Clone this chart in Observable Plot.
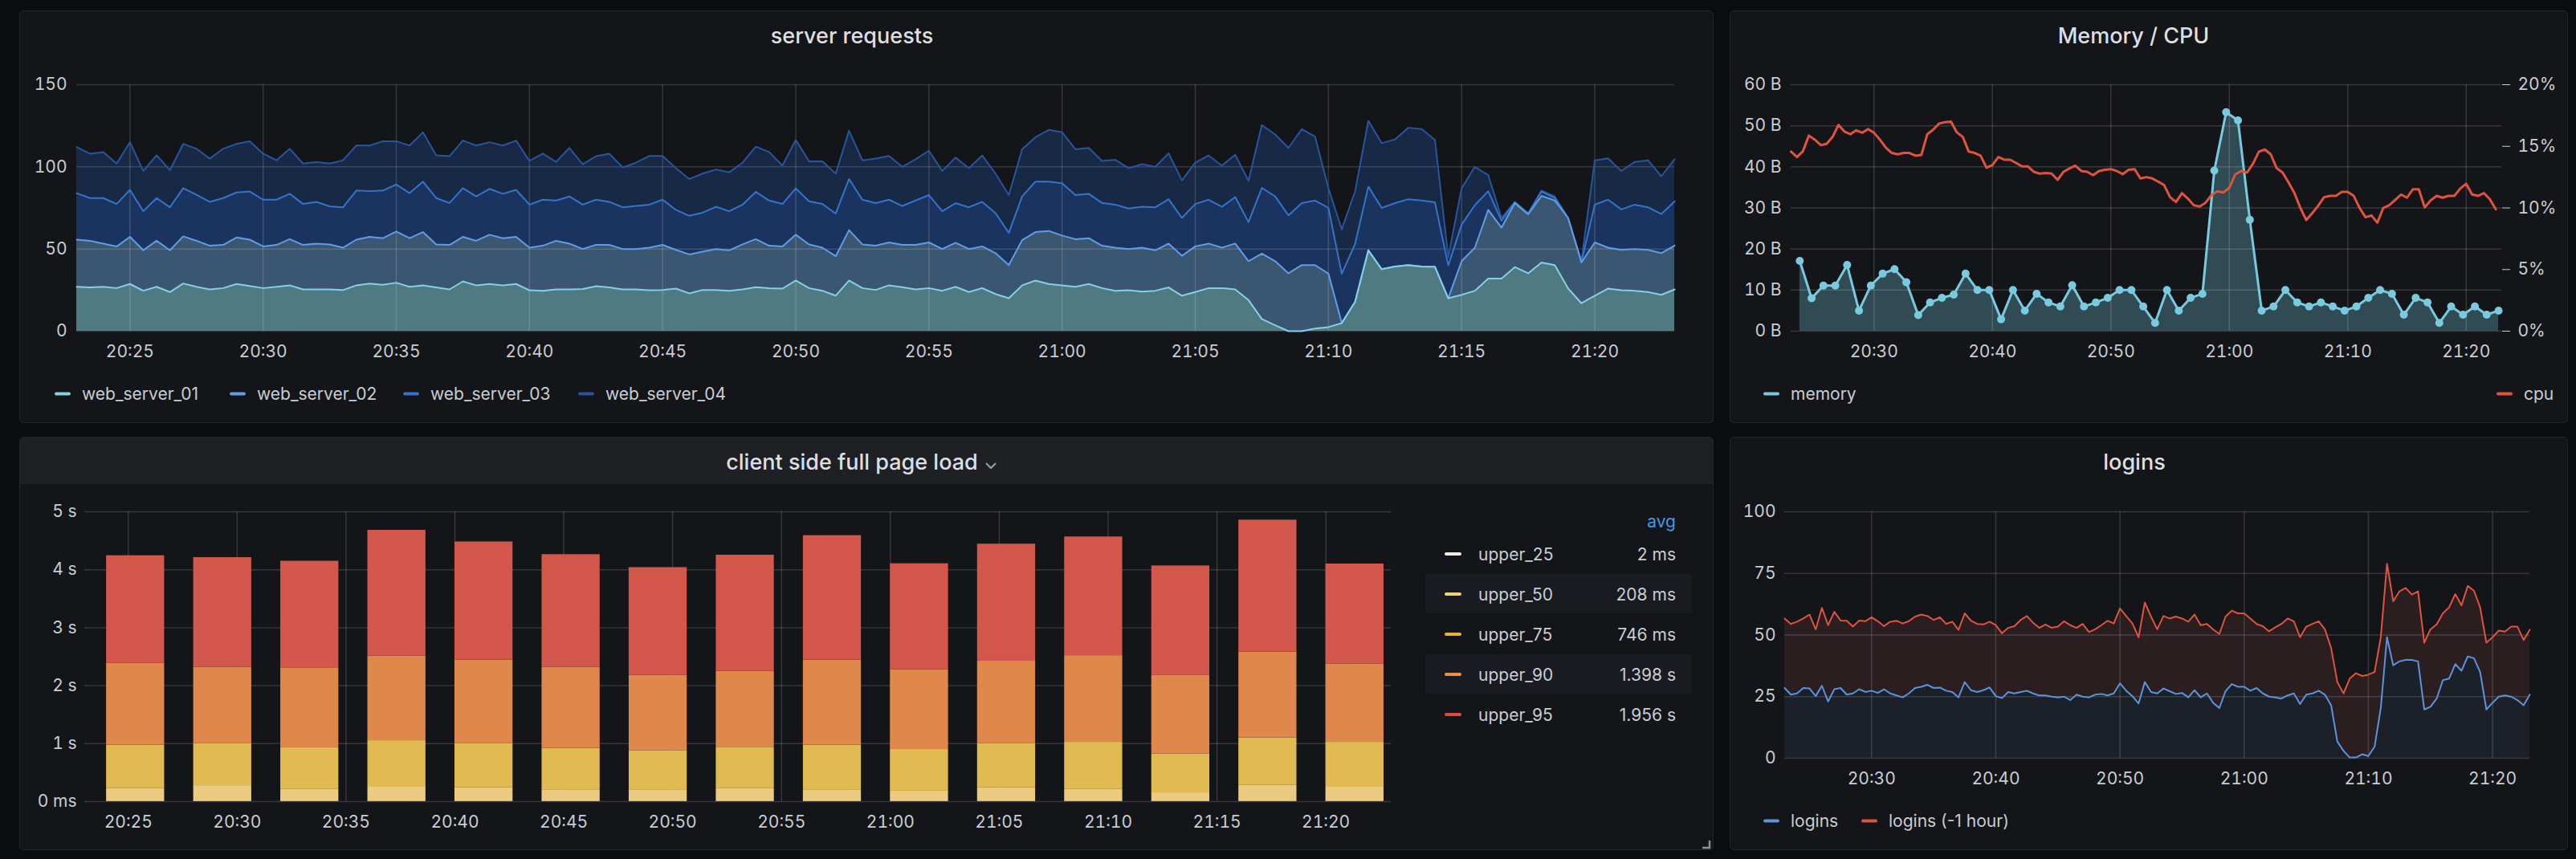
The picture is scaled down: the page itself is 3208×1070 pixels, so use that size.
<!DOCTYPE html>
<html><head><meta charset="utf-8">
<script src="https://cdn.jsdelivr.net/npm/d3@7"></script>
<script src="https://cdn.jsdelivr.net/npm/@observablehq/plot@0.6"></script>
<style>
html,body{margin:0;padding:0;background:#0b0c0e;}
#root{position:relative;width:3208px;height:1070px;overflow:hidden;font-family:Inter,"Noto Sans",sans-serif;color:#c8cdd3;}
.panel{position:absolute;background:#141519;border:1px solid #222429;border-radius:5px;box-sizing:border-box;overflow:hidden;}
.hdr{position:absolute;left:0;top:0;right:0;background:#1f2024;}
.title{position:absolute;font-size:27px;font-weight:500;color:#dcdfe3;white-space:nowrap;transform:translate(-50%,-50%);line-height:1;}
.leg{position:absolute;display:flex;align-items:center;font-size:21px;color:#c8cdd3;white-space:nowrap;transform:translateY(-50%);line-height:1;}
.dash{display:inline-block;width:20px;height:4px;border-radius:2px;margin-right:14px;}
.txt{position:absolute;font-size:21px;white-space:nowrap;transform:translateY(-50%);line-height:1;}
.rowbg{position:absolute;background:#1a1b20;}
</style>
</head><body><div id="root"></div>
<script>
// ---------------- DATA ----------------
// time grid (hh:mm:ss, UTC dummy day)
const SR_T0 = "20:23:00", SR_STEP_S = 30;      // server requests sampling
const MEM_T0 = "20:23:44", MEM_STEP_S = 60;    // memory sampling
const CPU_T0 = "20:23:00", CPU_STEP_S = 30;    // cpu sampling
const LOG_T0 = "20:23:00", LOG_STEP_S = 30;    // logins sampling
const DOMAIN = ["20:23:00", "21:23:00"];

// server requests (stacked levels, as drawn)
const web_server_01 = [27,26.6,27,26.2,28.7,24.6,27,23.8,29,27,25.4,26.2,28.7,27.5,26.2,27,27.9,25.4,25.4,25.4,25,27.9,29,28.2,29.5,27,27.9,26.6,25.4,30.3,27.9,28.7,27.9,28.7,24.9,24.6,25.4,25.4,25.7,27.4,26.6,
25.4,25.4,24.9,25.1,25.9,23,25.1,25.1,24.6,25.4,26.7,26.2,25.9,30.8,26.2,24.6,21.6,30.8,26.2,25.1,27.9,26.7,25.4,26.2,24.6,27,23.8,26.2,22.6,20,27.9,30.8,28.7,27.9,27,28.7,26.2,24.6,24.9,24.1,
24.6,26.6,21.6,23.8,26.2,26.2,25.4,18.9,7.4,3.6,0,0,1.6,2.5,4.9,17.7,49.2,37.7,39.3,40.2,39.3,39.2,20,22.1,24.6,32,32,39,35.2,41.8,40.2,26,17,21.6,25.9,24.9,24.6,23.8,22.1,25.4];
const web_server_02 = [55.7,55,53.3,51.5,57.4,49.2,55,49.2,57.7,55,52,52.5,57,55.7,51.6,52.5,56,52.5,53.3,52.8,50.8,55.7,57.4,56.6,60.6,56.6,60.3,52.8,52.5,57.4,55,58.7,56.6,57.4,50.8,52,55,53.3,50,52.5,52.5,
50,50,50.8,52.5,49.5,46.7,48.4,50,49.2,52.8,56,52,51.6,58.7,52.8,50.8,45.6,61.5,52.8,52,54,52.5,52.5,54,50,53.8,50,51.6,47.5,40.2,55.4,60.3,61,58.2,56,56.6,52,50.8,50,50.8,
49.2,53.3,45.9,51.6,53.3,50.8,53.3,42.6,47.2,42.6,35.2,40.2,40.2,35,5,18,49.2,37.7,39.3,40.2,39.3,39.2,20,42.6,50.8,73.8,63,77.9,71.1,82.3,79.5,68.9,41.8,54,50.8,49.5,50,49.5,47.5,52.1];
const web_server_03 = [84,81,81,77.4,86,73,81,75.4,87,83,78.7,81,84.4,85,80,80,83.6,77.4,78.7,76,75.4,85.6,85.2,85.6,89.3,84,91,81,78,87,82,86.6,83.6,86,77,80,79.5,82,77,80,78.7,
75.4,76.2,77,80,73.8,70.2,72.1,75.7,73,77,84.8,79.5,77.4,86.9,79,77.4,71.6,92.6,80,77.9,80,76.2,79.5,82.8,73,77.9,75.4,78.7,71.8,59.8,82,91,91,90,82.8,83.6,78,77,74.6,75.7,
75.4,80.3,68.9,77.4,80,75.7,81.6,66.4,87.2,82,70.5,77.9,79.5,75,35,53,88,75,77.9,80.3,79.5,78.4,40,64.8,76.7,85.2,67.2,78.4,71.5,85,81.1,68.9,42.3,77,80,74.1,77,75.4,71.3,79];
const web_server_04 = [112,108,109,102,115,97.5,107,98,114,111,105,111,114,115.6,108,104,111,102,103,102,104,113,113,115.6,115.6,113,121,107,106.5,116,113,115,113,116,103.6,108,103,111.5,101.6,106.5,108,
99.7,102.5,106.6,106.6,99.2,92.6,95.9,98.4,96.7,102.5,112.3,109,100.8,116.4,103.3,103.3,95.9,122,104,105,106.6,100,104.6,109.8,97.5,105.7,99.2,106.9,95.9,82.8,110.7,118,122.5,121,110.7,111.5,103.6,104.3,99.2,101.6,
100,108.2,91.8,102.5,106.9,100.8,107.4,91.5,125.4,119.7,111.5,123,118.4,87,62,85,128,114.4,116.7,123.8,123,116.4,45,86.9,100,95,68.9,78.7,71.8,85.6,82,68.9,42.6,104,105.2,97.5,103,104,94.3,104.6];
const srSeries = ["web_server_01","web_server_02","web_server_03","web_server_04"];
const srYTicks = [0,50,100,150];
const fiveMinTicks = ["20:25","20:30","20:35","20:40","20:45","20:50","20:55","21:00","21:05","21:10","21:15","21:20"];
const tenMinTicks = ["20:30","20:40","20:50","21:00","21:10","21:20"];

// memory (B) one per minute, cpu (%)
const memory = [17.1,8,11.1,11.1,16.1,5,11.1,14,15.1,11.9,3.9,7,8.1,8.9,14,10,10,2.9,10,5,9.1,7,6,11.2,6,7,8.1,10,10,6,2,10,5,8.1,9.1,39.1,53.3,51.3,27.1,5,6,10,7,6,7,6,5,6,8.1,10,9.1,4,8.1,7,2,6,4,6,4,5];
const cpu = [14.57,14.13,14.6,15.87,15.54,15.1,15.2,15.76,16.74,16.2,15.98,16.3,16.1,16.4,16.1,15.54,14.9,14.46,14.35,14.46,
14.46,14.24,14.3,15.98,16.35,16.85,16.96,17,16.13,15.76,14.57,14.46,14.24,13.26,13.48,14.13,13.91,13.91,13.65,13.37,
13.37,12.93,12.78,12.83,12.78,12.28,12.93,13.2,13.43,13,12.93,12.65,13,13.09,13.15,13,12.74,13.09,13.15,12.39,
12.5,12.39,12.13,11.85,10.87,10.48,11.2,10.76,10.22,10.11,10.43,11.04,11.35,11.26,11.63,12.72,13,12.87,13.59,14.57,
14.74,14.35,13.22,12.87,12.07,11.2,10,9.02,9.57,10.17,10.87,10.98,10.98,11.3,11.3,10.98,10,9.24,9.39,8.8,
10,10.22,10.65,11.09,10.83,11.52,11.52,10.04,10.61,10.98,10.83,10.98,10.98,11.57,11.96,11.09,10.98,11.2,10.7,9.89];
const memYTicks = [0,10,20,30,40,50,60];
const cpuYTicks = [0,5,10,15,20];

// client side full page load (seconds per 4-minute bucket)
const barTimes = ["20:24","20:28","20:32","20:36","20:40","20:44","20:48","20:52","20:56","21:00","21:04","21:08","21:12","21:16","21:20"];
const barSeries = ["upper_25","upper_50","upper_75","upper_90","upper_95"];
const upper_25 = [0.002,0.002,0.002,0.002,0.002,0.002,0.002,0.002,0.002,0.002,0.002,0.002,0.002,0.002,0.002];
const upper_50 = [0.222,0.274,0.208,0.260,0.236,0.193,0.193,0.222,0.193,0.179,0.236,0.208,0.150,0.284,0.260];
const upper_75 = [0.752,0.729,0.719,0.790,0.767,0.724,0.686,0.714,0.781,0.719,0.767,0.814,0.672,0.814,0.762];
const upper_90 = [1.414,1.314,1.371,1.462,1.438,1.400,1.300,1.310,1.467,1.376,1.419,1.495,1.352,1.480,1.352];
const upper_95 = [1.853,1.891,1.848,2.167,2.038,1.943,1.857,2.004,2.147,1.829,2.019,2.048,1.891,2.277,1.724];
const barAvgLabels = ["2 ms","208 ms","746 ms","1.398 s","1.956 s"];
const barYTicks = [0,1,2,3,4,5];

// logins
const logins = [28.5,25.8,26.3,28.5,28.3,25.2,29.4,23,28,28.5,25.8,26.3,28,26.9,27.4,26.5,28,26.3,25.5,24.7,26.3,28.5,29,29.8,28.5,28.7,27.4,26.9,24.7,30.9,27.6,26.9,27.6,28.7,25.2,24.4,26.9,26.3,26.9,27.4,26.3,25.5,25.5,25,24.7,25,23.6,25.8,25,24.7,25.8,26.1,25.5,26.3,30.4,27.4,25.2,22.2,30.9,26.9,26.3,
28.3,27.2,26.1,26.5,24.7,27.6,24.7,26.3,22.5,20.4,27.2,30.1,29,29,27.4,28.5,26.3,25,24.7,24.2,25.5,26.3,22,25.8,26.3,27.4,25.8,21.5,6.8,3,0.3,0.3,1.6,0.9,4.7,20.4,49.1,37.7,39.3,39.9,39.9,39.3,19.8,20.9,24.2,31.7,32.3,38.2,35.5,41.3,40.6,35,19.8,22.5,25,25.5,25,23.6,21.5,25.8];
const logins_1h = [56.7,54.5,55.4,56.7,58.3,52.3,61,54,59.4,55.9,55.8,53.4,55.9,55.6,57.2,55.6,53.6,55.4,55.8,54.7,55.6,57.5,58.3,57.7,56.1,57.2,54.5,55.4,52.1,58.8,55.8,54.5,54.3,55.4,54,50.7,52.9,53.6,56.1,57.7,55,52.9,54.3,52.9,53.4,55.6,54,52.9,54.5,51.2,52.3,54,55.8,54.7,60.8,57.7,54.7,49.1,63.2,57.5,52.3,
57.7,56.7,57.5,56.7,55.4,58.3,54,54.5,52.3,50.4,57.5,59.9,58.8,58.8,56.7,54.5,53.6,51.5,53.1,54.5,56.7,55.6,49.1,53.4,54.5,55.6,52.3,44.7,30.9,26.3,32.3,34.5,33.4,33.9,35,49.1,78.9,63.7,67.7,69.1,66.4,67.7,46.9,52.3,54.3,58.8,61.2,66.6,62,69.9,68,61.2,46.9,49.1,51.8,51.4,53.4,53.4,48,52.1];
const loginYTicks = [0,25,50,75,100];

// ---------------- STYLE ----------------
const TEXT = "#c8cdd3";
const GRID = {stroke: "#ffffff", strokeOpacity: 0.15, strokeWidth: 1.5};
const SR_FILL = ["#4f7a82","#3b5671","#1b345f","#172944"];
const SR_LINE = ["#84d0e4","#5f9de6","#3574cc","#27559f"];
const MEM_COLOR = "#78cbdf", CPU_COLOR = "#e0533f";
const BAR_FILL = ["#f0e4d2","#eacb80","#e2ba52","#e0884c","#d3574b"];
const BAR_DASH = ["#f3ebe1","#f1d27a","#e4b43a","#ee8f42","#e0493f"];
const BAR_SPAN_S = 160;
const LOGIN_BLUE = "#5b94db", LOGIN_RED = "#e0533f";
const LOGIN_BLUE_FILL = "#1b2029", LOGIN_RED_FILL = "#2a1e21";

// ---------------- HELPERS ----------------
const T = s => { const p = s.split(":").map(Number); return new Date(Date.UTC(2021,0,1,p[0],p[1],p[2]||0)); };
const times = (start, stepS, n) => Array.from({length:n}, (_, i) => new Date(+T(start) + i*stepS*1000));
const hhmm = d3.utcFormat("%H:%M");
const root = document.getElementById("root");
const M = {ML:110, MR:110, MT:30, MB:60};
const plotStyle = {background:"transparent", color:TEXT, fontSize:"21px", fontFamily:"Inter, sans-serif", overflow:"visible"};
function dims(F){ return {width:F.x1-F.x0+M.ML+M.MR, height:F.y1-F.y0+M.MT+M.MB, marginLeft:M.ML, marginRight:M.MR, marginTop:M.MT, marginBottom:M.MB, style:plotStyle}; }
function xScale(ticks){ return {type:"utc", domain:DOMAIN.map(T), ticks:ticks.map(T), tickFormat:hhmm, tickSize:0, tickPadding:18, label:null}; }
function mount(svg, F){ svg.style.position="absolute"; svg.style.left=(F.x0-M.ML)+"px"; svg.style.top=(F.y0-M.MT)+"px"; root.appendChild(svg); return svg; }
function el(cls, css, html){ const d=document.createElement("div"); d.className=cls; Object.assign(d.style, css); if(html!=null) d.innerHTML=html; root.appendChild(d); return d; }
function panel(x0,y0,x1,y1,hdr){ const p=el("panel",{left:x0+"px",top:y0+"px",width:(x1-x0)+"px",height:(y1-y0)+"px"}); if(hdr){const h=document.createElement("div"); h.className="hdr"; h.style.height=hdr+"px"; p.appendChild(h);} }
function title(text,cx,cy){ el("title",{left:cx+"px",top:cy+"px"},text); }
function legend(color,label,x,y){ el("leg",{left:x+"px",top:y+"px"},`<span class="dash" style="background:${color}"></span><span>${label}</span>`); }

// ---------------- PANELS ----------------
panel(24,13,2134,527);
panel(2154,13,3198,527);
panel(24,544,2134,1059,58);
panel(2154,544,3198,1059);
title("server requests",1061,44);
title("Memory / CPU",2657,44);
title("logins",2658,575);
title("client side full page load",1061,575);
el("",{position:"absolute",left:"1226px",top:"570px"},`<svg width="16" height="12"><polyline points="2,3 8,9 14,3" fill="none" stroke="#9aa1ab" stroke-width="2"/></svg>`);
el("",{position:"absolute",left:"2119px",top:"1042px"},`<svg width="12" height="12"><path d="M10,1 V10 H1" fill="none" stroke="#8e9097" stroke-width="2.5"/></svg>`);

// ---------------- PANEL 1: server requests ----------------
const F1 = {x0:95, x1:2085, y0:105, y1:412};
const srLevels = [web_server_01, web_server_02, web_server_03, web_server_04];
const srTimes = times(SR_T0, SR_STEP_S, web_server_01.length);
const srRows = srLevels.map((lv,j) => lv.map((v,i) => ({t:srTimes[i], series:srSeries[j], lo: j ? Math.min(srLevels[j-1][i], v) : 0, hi:v})));
mount(Plot.plot({
  ...dims(F1),
  x: xScale(fiveMinTicks),
  y: {domain:[0,150], ticks:srYTicks, tickSize:0, tickPadding:12, label:null},
  marks: [
    ...srRows.map((rows,j) => Plot.areaY(rows, {x:"t", y1:"lo", y2:"hi", fill:SR_FILL[j]})),
    Plot.ruleY(srYTicks, GRID),
    Plot.ruleX(fiveMinTicks.map(T), GRID),
    ...srRows.map((rows,j) => Plot.lineY(rows, {x:"t", y:"hi", stroke:SR_LINE[j], strokeWidth:2})).reverse()
  ]
}), F1);
[68,286,502,720].forEach((x,j) => legend(SR_LINE[j], srSeries[j], x, 490));

// ---------------- PANEL 2: Memory / CPU ----------------
const F2 = {x0:2230, x1:3115, y0:105, y1:412};
const memTimes = times(MEM_T0, MEM_STEP_S, memory.length);
const memRows = memory.map((v,i) => ({t:memTimes[i], v}));
const cpuTimes = times(CPU_T0, CPU_STEP_S, cpu.length);
const cpuRows = cpu.map((v,i) => ({t:cpuTimes[i], v}));
mount(Plot.plot({
  ...dims(F2),
  x: xScale(tenMinTicks),
  y: {domain:[0,60], ticks:memYTicks, tickFormat:d => d + " B", tickSize:0, tickPadding:12, label:null},
  marks: [
    Plot.areaY(memRows, {x:"t", y:"v", fill:MEM_COLOR, fillOpacity:0.3}),
    Plot.ruleY(memYTicks, GRID),
    Plot.ruleX(tenMinTicks.map(T), GRID),
    Plot.lineY(memRows, {x:"t", y:"v", stroke:MEM_COLOR, strokeWidth:3}),
    Plot.dot(memRows, {x:"t", y:"v", r:5, fill:MEM_COLOR})
  ]
}), F2);
const cpuSvg = mount(Plot.plot({
  ...dims(F2),
  x: {type:"utc", domain:DOMAIN.map(T), axis:null},
  y: {domain:[0,20], axis:"right", ticks:cpuYTicks, tickFormat:d => d + "%", tickSize:10, tickPadding:10, label:null},
  marks: [ Plot.lineY(cpuRows, {x:"t", y:"v", stroke:CPU_COLOR, strokeWidth:3}) ]
}), F2);
cpuSvg.querySelectorAll(".tick line").forEach(l => { l.setAttribute("stroke","#4a4c52"); l.setAttribute("stroke-width","2"); });
legend(MEM_COLOR, "memory", 2196, 490);
legend(CPU_COLOR, "cpu", 3109, 490);

// ---------------- PANEL 3: client side full page load ----------------
const F3 = {x0:105, x1:1732, y0:637, y1:998};
const barVals = [upper_25, upper_50, upper_75, upper_90, upper_95];
const barRows = [];
barTimes.forEach((bt,i) => {
  let acc = 0;
  barSeries.forEach((s,j) => { const v = barVals[j][i]; barRows.push({x1:T(bt), x2:new Date(+T(bt)+BAR_SPAN_S*1000), y1:acc, y2:acc+v, s}); acc += v; });
});
mount(Plot.plot({
  ...dims(F3),
  x: xScale(fiveMinTicks),
  y: {domain:[0,5], ticks:barYTicks, tickFormat:d => d === 0 ? "0 ms" : d + " s", tickSize:0, tickPadding:10, label:null},
  color: {type:"ordinal", domain:barSeries, range:BAR_FILL},
  marks: [
    Plot.ruleY(barYTicks, GRID),
    Plot.ruleX(fiveMinTicks.map(T), GRID),
    Plot.rect(barRows, {x1:"x1", x2:"x2", y1:"y1", y2:"y2", fill:"s"})
  ]
}), F3);
// legend table
el("txt",{left:"2087px",top:"649px",color:"#3d9be9",transform:"translate(-100%,-50%)"},"avg");
[1,3].forEach(j => el("rowbg",{left:"1775px",top:(690+50*j-25)+"px",width:"332px",height:"49px"}));
barSeries.forEach((s,j) => {
  const y = 690 + 50*j;
  el("",{position:"absolute",left:"1799px",top:(y-2)+"px",width:"21px",height:"4px",borderRadius:"2px",background:BAR_DASH[j]});
  el("txt",{left:"1841px",top:y+"px",color:TEXT},s);
  el("txt",{left:"2087px",top:y+"px",color:TEXT,transform:"translate(-100%,-50%)"},barAvgLabels[j]);
});

// ---------------- PANEL 4: logins ----------------
const F4 = {x0:2222, x1:3150, y0:637, y1:944};
const logTimes = times(LOG_T0, LOG_STEP_S, logins.length);
const logRows = logins.map((v,i) => ({t:logTimes[i], a:v, b:logins_1h[i]}));
mount(Plot.plot({
  ...dims(F4),
  x: xScale(tenMinTicks),
  y: {domain:[0,100], ticks:loginYTicks, tickSize:0, tickPadding:11, label:null},
  marks: [
    Plot.areaY(logRows, {x:"t", y:"b", fill:LOGIN_RED_FILL}),
    Plot.areaY(logRows, {x:"t", y:"a", fill:LOGIN_BLUE_FILL}),
    Plot.ruleY(loginYTicks, GRID),
    Plot.ruleX(tenMinTicks.map(T), GRID),
    Plot.lineY(logRows, {x:"t", y:"b", stroke:LOGIN_RED, strokeWidth:2}),
    Plot.lineY(logRows, {x:"t", y:"a", stroke:LOGIN_BLUE, strokeWidth:2})
  ]
}), F4);
legend(LOGIN_BLUE, "logins", 2196, 1022);
legend(LOGIN_RED, "logins (-1 hour)", 2318, 1022);
</script></body></html>
